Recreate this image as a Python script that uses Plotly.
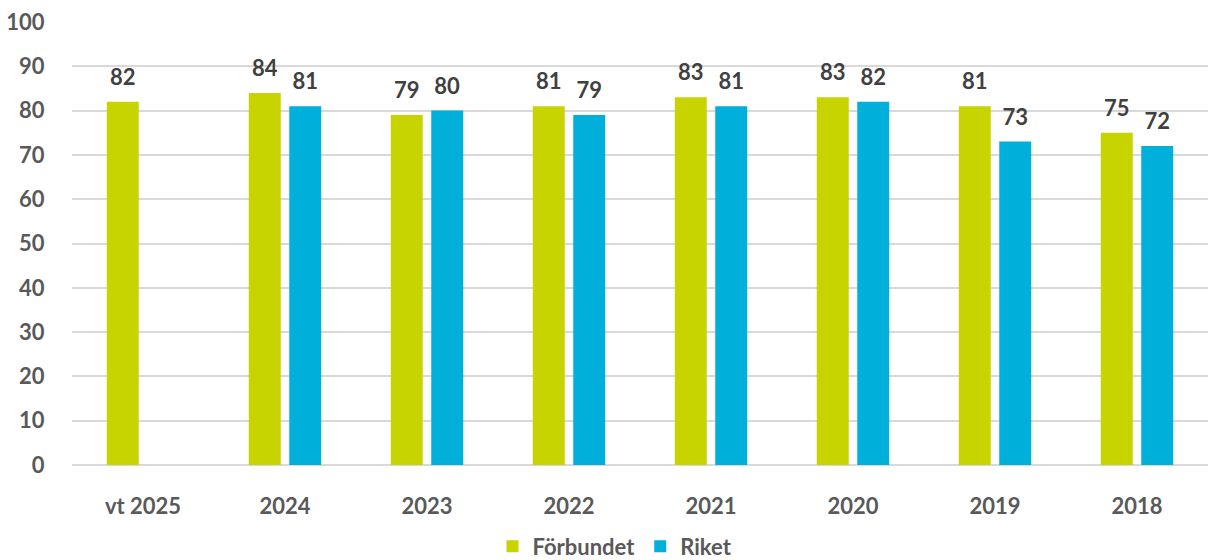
import plotly.graph_objects as go

# Valeurs
categories = ["vt 2025", "2024", "2023", "2022", "2021", "2020", "2019", "2018"]
forbundet = [82, 84, 79, 81, 83, 83, 81, 75]
riket = [None, 81, 80, 79, 81, 82, 73, 72]

GRON = "#C8D400"
BLA = "#00B0DA"
GRA_TEXT = "#595959"
GRA_ETIKETT = "#404040"
GRID = "#D9D9D9"
FONT = "Lato"

# hauteur (en unités de l'axe) d'une barre invisible qui pousse les étiquettes vers le haut
LABEL_PAD = 2.0

fig = go.Figure()

for nom, valeurs, couleur, groupe in [
    ("Förbundet", forbundet, GRON, "f"),
    ("Riket", riket, BLA, "r"),
]:
    fig.add_trace(go.Bar(
        x=categories,
        y=valeurs,
        name=nom,
        marker=dict(color=couleur, line=dict(width=0)),
        offsetgroup=groupe,
        hoverinfo="x+y+name",
    ))
    # barre transparente posée sur la vraie barre, porte l'étiquette
    hauteur = [LABEL_PAD if v is not None else None for v in valeurs]
    fig.add_trace(go.Bar(
        x=categories,
        y=hauteur,
        base=valeurs,
        text=[str(v) if v is not None else "" for v in valeurs],
        textposition="outside",
        constraintext="none",
        cliponaxis=False,
        textfont=dict(family=FONT, size=22, color=GRA_ETIKETT, weight="bold"),
        marker=dict(color="rgba(0,0,0,0)", line=dict(width=0)),
        offsetgroup=groupe,
        showlegend=False,
        hoverinfo="skip",
    ))

fig.update_layout(
    barmode="group",
    bargap=0.43,
    bargroupgap=0.21,
    width=1208,
    height=560,
    margin=dict(l=72, r=0, t=22, b=95, autoexpand=False),
    paper_bgcolor="white",
    plot_bgcolor="white",
    font=dict(family=FONT, size=22, color=GRA_TEXT, weight="bold"),
    legend=dict(
        orientation="h",
        x=0.478,
        xanchor="center",
        yref="container",
        y=0.024,
        yanchor="middle",
        font=dict(family=FONT, size=22, color=GRA_TEXT, weight="bold"),
        itemclick=False,
    ),
    showlegend=True,
)

fig.update_xaxes(
    showgrid=False,
    showline=False,
    zeroline=False,
    ticks="outside",
    ticklen=22,
    tickcolor="rgba(0,0,0,0)",
    tickfont=dict(family=FONT, size=22, color=GRA_TEXT, weight="bold"),
)

fig.update_yaxes(
    range=[0, 100],
    dtick=10,
    showgrid=True,
    gridcolor=GRID,
    gridwidth=1.5,
    zeroline=True,
    zerolinecolor=GRID,
    zerolinewidth=1.5,
    showline=False,
    ticks="outside",
    ticklen=22,
    tickcolor="rgba(0,0,0,0)",
    tickfont=dict(family=FONT, size=22, color=GRA_TEXT, weight="bold"),
)

# la marge de 8px du <body> décale la figure : on la supprime
fig.write_html(
    "out.html",
    config={"displayModeBar": False},
    post_script="document.body.style.margin='0';",
)
